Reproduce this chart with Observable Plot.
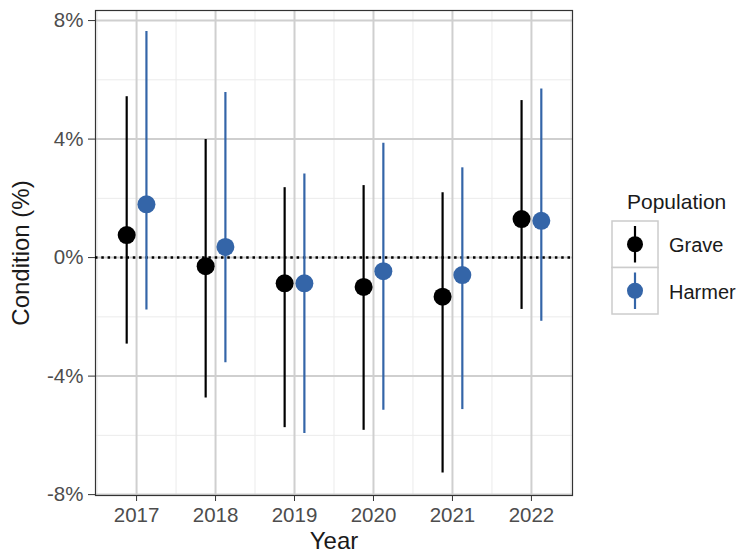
<!DOCTYPE html>
<html>
<head>
<meta charset="utf-8">
<script src="https://cdn.jsdelivr.net/npm/d3@7"></script>
<script src="https://cdn.jsdelivr.net/npm/@observablehq/plot@0.6"></script>
<style>
  html, body { margin: 0; padding: 0; background: #fff; }
  #wrap { position: relative; width: 741px; height: 554px; font-family: "Liberation Sans", Arial, sans-serif; }
  .chart g[aria-label="x-axis tick label"], .chart g[aria-label="y-axis tick label"] { font-size: 20.5px; fill: #4d4d4d; }
  .chart g[aria-label="x-axis label"], .chart g[aria-label="y-axis label"] { font-size: 24px; fill: #1a1a1a; }
  #legend { position: absolute; left: 600px; top: 185px; }
</style>
</head>
<body>
<div id="wrap"></div>
<script>
// ---- data ----
const years = [2017, 2018, 2019, 2020, 2021, 2022];
const populations = ["Grave", "Harmer"];
const colors = ["#000000", "#3465a8"];
const graveMean = [0.76, -0.29, -0.87, -0.99, -1.32, 1.30];
const graveLow  = [-2.92, -4.74, -5.74, -5.83, -7.27, -1.75];
const graveHigh = [5.43, 3.99, 2.36, 2.43, 2.19, 5.30];
const harmerMean = [1.80, 0.36, -0.87, -0.46, -0.59, 1.24];
const harmerLow  = [-1.77, -3.55, -5.94, -5.15, -5.13, -2.15];
const harmerHigh = [7.63, 5.57, 2.82, 3.86, 3.03, 5.69];
const yTicks = [-8, -4, 0, 4, 8];
const yMinor = [-6, -2, 2, 6];
const xMinor = [2016.5, 2017.5, 2018.5, 2019.5, 2020.5, 2021.5, 2022.5];
const dodge = 0.125; // half the dodge width, in years

const series = [
  {name: "Grave", mean: graveMean, low: graveLow, high: graveHigh, off: -dodge},
  {name: "Harmer", mean: harmerMean, low: harmerLow, high: harmerHigh, off: dodge}
];
const rows = series.flatMap(s => years.map((y, i) => ({
  pop: s.name, x: y + s.off, mean: s.mean[i], low: s.low[i], high: s.high[i]
})));

const chart = Plot.plot({
  width: 741,
  height: 554,
  marginLeft: 95,
  marginRight: 169,
  marginTop: 10,
  marginBottom: 59,
  className: "chart",
  style: {fontFamily: "'Liberation Sans', Arial, sans-serif", fontSize: "20px", background: "#fff"},
  x: {type: "linear", domain: [2016.48, 2022.52]},
  y: {domain: [-8.03, 8.34]},
  color: {domain: populations, range: colors},
  marks: [
    Plot.ruleX(xMinor, {stroke: "#ebebeb", strokeWidth: 1}),
    Plot.ruleY(yMinor, {stroke: "#ebebeb", strokeWidth: 1}),
    Plot.ruleX(years, {stroke: "#cfcfcf", strokeWidth: 2}),
    Plot.ruleY(yTicks, {stroke: "#cfcfcf", strokeWidth: 2}),
    Plot.frame({stroke: "#333333", strokeWidth: 1.2}),
    Plot.ruleY([0], {stroke: "#000", strokeWidth: 2.5, strokeDasharray: "2.5,3.8"}),
    Plot.ruleX(rows, {x: "x", y1: "low", y2: "high", stroke: "pop", strokeWidth: 2.2}),
    Plot.dot(rows, {x: "x", y: "mean", fill: "pop", r: 9}),
    Plot.axisX({ticks: years, tickFormat: d => String(d), tickSize: 6, tickPadding: 6, stroke: "#333",
      label: "Year", labelAnchor: "center", labelArrow: "none", labelOffset: 53}),
    Plot.axisY({ticks: yTicks, tickFormat: d => d + "%", tickSize: 7, tickPadding: 5, stroke: "#333",
      label: "Condition (%)", labelAnchor: "center", labelArrow: "none", labelOffset: 84})
  ]
});
document.getElementById("wrap").appendChild(chart);

// ---- legend ----
const leg = d3.select("#wrap").append("svg").attr("id", "legend")
  .attr("width", 141).attr("height", 135)
  .style("font-family", "'Liberation Sans', Arial, sans-serif");
leg.append("text").attr("x", 27).attr("y", 24).attr("font-size", 21).attr("fill", "#1a1a1a").text("Population");
populations.forEach((p, i) => {
  const g = leg.append("g").attr("transform", `translate(12,${36 + i * 46.5})`);
  g.append("rect").attr("x", 0).attr("y", 0).attr("width", 46).attr("height", 46.5)
    .attr("fill", "#fff").attr("stroke", "#cccccc").attr("stroke-width", 1.5);
  g.append("line").attr("x1", 23).attr("x2", 23).attr("y1", 5).attr("y2", 41.5)
    .attr("stroke", colors[i]).attr("stroke-width", 2.2);
  g.append("circle").attr("cx", 23).attr("cy", 23.25).attr("r", 8).attr("fill", colors[i]);
  g.append("text").attr("x", 57).attr("y", 31).attr("font-size", 20).attr("fill", "#1a1a1a").text(p);
});
</script>
</body>
</html>
